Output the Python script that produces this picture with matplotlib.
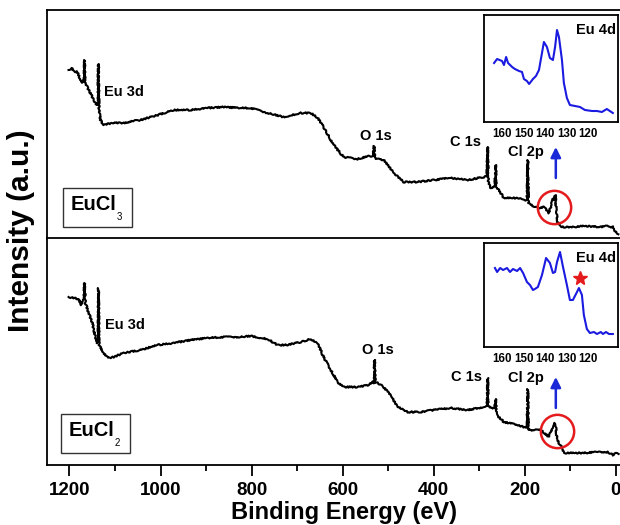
import matplotlib
matplotlib.use('Agg')
import matplotlib.pyplot as plt
from matplotlib.patches import Rectangle

plt.rcParams['font.family'] = ['Liberation Sans', 'DejaVu Sans']
plt.rcParams['font.weight'] = 'bold'

# survey spectra (binding energy in eV, intensity in a.u.)
be_eucl3 = [1202, 1195, 1190, 1184, 1180, 1174, 1170, 1168, 1167, 1166, 1160, 1150,
            1143, 1139, 1137.5, 1136.5, 1135, 1132, 1125, 1116, 1103, 1081, 1060, 1044,
            1006, 971, 934, 897, 861, 824, 802, 765, 730, 692, 670, 655, 642, 626,
            611, 598, 567, 543, 533, 531, 529, 523, 510, 494, 479, 466, 435, 400,
            363, 325, 290, 283, 281.5, 280, 275, 266, 264, 262, 257, 246, 215, 198,
            195, 193.5, 192, 187, 171, 158, 147, 142, 137, 135, 133, 131, 128, 121,
            92, 70, 33, 18, 11, 7, 3, 0, -6]
int_eucl3 = [168.5, 170.5, 166.5, 167.5, 163.5, 155.5, 158.5, 160.5, 178.5, 156.5, 150.5, 141.5,
             135.5, 133.5, 135.5, 174.5, 128.5, 118.5, 113.5, 114.5, 115.5, 115.5, 117.5, 118.5,
             123.5, 128.5, 128.5, 130.5, 131.5, 130.5, 130.5, 125.5, 121.5, 125.5, 125.5, 120.5, 111.5, 98.5,
             88.5, 81.5, 79.5, 82.5, 82.5, 92.5, 80.5, 79.5, 78.5, 69.5, 61.5, 56.5, 56.5, 58.5,
             60.5, 58.5, 61.5, 62.5, 91.5, 56.5, 50.5, 52.5, 73.5, 50.5, 48.5, 40.5, 40.5, 38.5,
             38.5, 78.5, 35.5, 33.5, 30.5, 31.5, 25.5, 33.5, 41.5, 38.5, 43.5, 28.5, 16.5, 11.5,
             11.5, 12.5, 11.5, 12.5, 10.5, 12.5, 8.5, 6.5, 4.5]

be_eucl2 = [1202, 1191, 1180, 1174, 1169, 1167, 1165, 1160, 1150, 1143, 1139, 1137,
            1136.3, 1135, 1132, 1125, 1116, 1103, 1081, 1044, 1007, 971, 934, 897,
            861, 824, 802, 765, 743, 721, 692, 670, 655, 642, 626, 611, 598, 567,
            543, 534, 531, 530, 528.5, 523, 510, 494, 479, 457, 429, 400, 363, 325,
            290, 283, 281.5, 280, 275, 266, 264, 262, 257, 246, 215, 198, 195, 193.5,
            192, 187, 165, 147, 140, 136, 134, 132, 131, 129, 125, 121, 114, 92,
            70, 40, 18, 6, 0, -6]
int_eucl2 = [168, 167, 166, 160, 165, 182, 162, 155, 142, 128, 122, 125,
             177, 120, 118, 112, 107, 108, 112, 115, 120, 122, 125, 127,
             128, 128, 129, 126, 120, 120, 123, 126, 122, 108, 95, 83, 78, 78,
             80, 83, 82, 105, 82, 82, 78, 69, 58, 53, 53, 55, 57, 55,
             58, 59, 87, 59, 57, 57, 66, 52, 48, 43, 40, 37, 37, 76,
             35, 35, 35, 28, 37, 39, 42, 40, 33, 25, 22, 20, 12, 12,
             12, 13, 13, 10, 12, 11]

# Eu 4d detail
be_4d_eucl3 = [163.7, 162.3, 160.0, 159.1, 158.1, 157.2, 155.3, 154.0, 152.1, 150.7, 149.8, 148.4,
               147.4, 145.6, 144.2, 142.8, 141.4, 140.5, 139.1, 137.7, 136.3, 135.3, 134.4, 133.5,
               132.1, 131.2, 129.8, 128.4, 126.0, 123.7, 121.4, 118.1, 115.8, 113.5, 111.2, 109.8, 108.4]
int_4d_eucl3 = [59, 63, 61, 57, 65, 59, 55, 53, 51, 50, 43, 41,
                38, 43, 46, 52, 69, 80, 75, 64, 62, 75, 92, 85,
                62, 39, 24, 17, 16, 15, 12, 11, 11, 10, 13, 11, 9]

be_4d_eucl2 = [163.3, 162.3, 160.9, 159.5, 157.7, 156.3, 154.9, 153.0, 151.6, 150.2, 148.4, 147.0,
               145.6, 144.7, 143.3, 141.4, 139.5, 137.7, 136.3, 135.3, 134.4, 133.0, 131.6, 129.8,
               128.4, 127.0, 125.1, 124.2, 122.8, 121.9, 120.5, 119.1, 117.2, 115.8, 114.0, 113.0,
               111.6, 110.2, 108.4]
int_4d_eucl2 = [79, 75, 79, 77, 79, 75, 78, 76, 79, 74, 65, 62,
                57, 58, 60, 72, 89, 84, 74, 75, 85, 95, 80, 62,
                47, 47, 55, 59, 52, 32, 18, 14, 15, 13, 15, 13,
                15, 13, 13]

survey_ticks = [1200, 1000, 800, 600, 400, 200, 0]
inset_ticks = [160, 150, 140, 130, 120]

W, H = 620, 525


def fx(px):
    return px / W


def fy(py):
    return 1 - py / H


fig = plt.figure(figsize=(6.2, 5.25), dpi=100)
ax1 = fig.add_axes([fx(46.7), fy(238.5), fx(576), 228.5 / H])
ax2 = fig.add_axes([fx(46.7), fy(465), fx(576), 226.5 / H], sharex=ax1)

panels = [
    (ax1, be_eucl3, int_eucl3, 228.5,
     {'Eu 3d': (1125, 146.5, 'left'), 'O 1s': (528, 102.5, 'center'),
      'C 1s': (330, 96.5, 'center'), 'Cl 2p': (198, 86.5, 'center')},
     (136.3, 31.5), (131.9, 60.5, 91.5)),
    (ax2, be_eucl2, int_eucl2, 226.5,
     {'Eu 3d': (1121, 140, 'left'), 'O 1s': (523, 115, 'center'),
      'C 1s': (327, 88, 'center'), 'Cl 2p': (198, 87, 'center')},
     (129.7, 34), (131.9, 57, 88)),
]

for ax, be, inten, ytop, labels, circ, arr in panels:
    line, = ax.plot(be, inten, color='black', lw=1.5)
    line.set_sketch_params(scale=0.7, length=2, randomness=4)
    ax.set_ylim(0, ytop)
    ax.set_xlim(1250, -15)
    ax.set_yticks([])
    for sp in ax.spines.values():
        sp.set_linewidth(1.3)
    for txt, (x, y, ha) in labels.items():
        ax.text(x, y, txt, fontsize=10.5, ha=ha, va='center')
    ax.plot(circ[0], circ[1], 'o', ms=24, mfc='none', mec='#e41a1c', mew=1.8)
    ax.annotate('', xy=(arr[0], arr[2]), xytext=(arr[0], arr[1]),
                arrowprops=dict(arrowstyle='-|>', color='#1a28d8', lw=1.8,
                                mutation_scale=15, shrinkA=0, shrinkB=0))

ax1.tick_params(axis='x', bottom=False, labelbottom=False)
ax2.set_xticks(survey_ticks)
ax2.set_xticks(range(1200, -1, -100), minor=True)
ax2.tick_params(axis='x', which='major', length=8, width=1.3, labelsize=13.5, pad=4)
ax2.tick_params(axis='x', which='minor', length=4, width=1.3)

fig.text(fx(344), fy(513), 'Binding Energy (eV)', fontsize=17, ha='center', va='center')
fig.text(fx(21), fy(231), 'Intensity (a.u.)', fontsize=21.5, ha='center', va='center',
         rotation=90)

# sample name boxes
for (x0, y0, y1, tx, ty, sub, sx, sy) in [(63, 188, 227, 71, 205, '3', 119, 217),
                                           (61, 414, 453, 69, 431, '2', 117, 443)]:
    fig.add_artist(Rectangle((fx(x0), fy(y1)), fx(69), (y1 - y0) / H,
                             transform=fig.transFigure, fill=False,
                             edgecolor='#333333', lw=1.0))
    fig.text(fx(tx), fy(ty), 'EuCl', fontsize=14.5, ha='left', va='center')
    fig.text(fx(sx), fy(sy), sub, fontsize=7, fontweight='normal',
             ha='center', va='center')

# Eu 4d insets
insets = [
    (fy(122), 107 / H, be_4d_eucl3, int_4d_eucl3, 107, False),
    (fy(347), 104 / H, be_4d_eucl2, int_4d_eucl2, 104, True),
]
for bottom, height, be, inten, ytop, star in insets:
    ins = fig.add_axes([fx(484), bottom, fx(134), height])
    ins.plot(be, inten, color='#1a1ae0', lw=1.5)
    ins.set_xlim(168.4, 106)
    ins.set_ylim(0, ytop)
    ins.set_yticks([])
    ins.set_xticks(inset_ticks)
    ins.tick_params(axis='x', length=0, pad=4, labelsize=8.3)
    for sp in ins.spines.values():
        sp.set_linewidth(1.3)
    ins.text(0.985, 0.86, 'Eu 4d', transform=ins.transAxes, fontsize=10.5,
             ha='right', va='center')
    if star:
        ins.plot(123.7, 69, '*', color='#e41a1c', ms=10)

fig.savefig('out.png', dpi=100)
